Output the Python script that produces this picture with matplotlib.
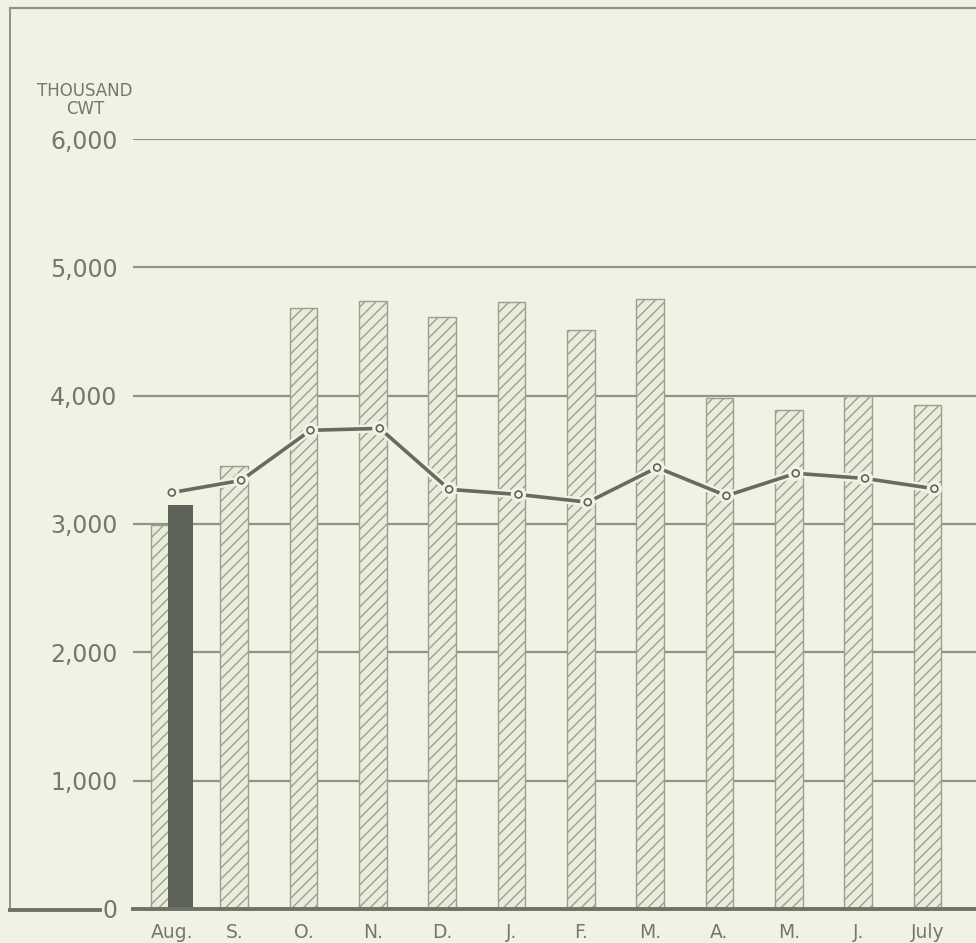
import matplotlib.pyplot as plt
import matplotlib.patheffects as pe
from matplotlib.lines import Line2D

# data (thousand cwt)
months = ["Aug.", "S.", "O.", "N.", "D.", "J.", "F.", "M.", "A.", "M.", "J.", "July"]
prev_year = [2990, 3450, 4680, 4740, 4610, 4730, 4510, 4750, 3980, 3890, 4000, 3930]
current = [3150]
average = [3245, 3340, 3730, 3745, 3270, 3230, 3170, 3440, 3220, 3395, 3355, 3275]
y_ticks = [0, 1000, 2000, 3000, 4000, 5000, 6000]
y_labels = ["0", "1,000", "2,000", "3,000", "4,000", "5,000", "6,000"]

bg = "#f0f3e4"
grey = "#8f9484"
dark = "#5f645a"
text_col = "#73786c"

plt.rcParams['hatch.linewidth'] = 1.0
plt.rcParams['hatch.color'] = "#9a9f8e"
plt.rcParams['font.family'] = ['DejaVu Sans']

W, H = 976, 943
fig = plt.figure(figsize=(W / 100, H / 100), dpi=100, facecolor=bg)
ax = fig.add_axes([133 / W, (H - 909) / H, (W - 133) / W, (909 - 139) / H])
ax.set_facecolor(bg)

x = list(range(len(months)))
ax.bar(x, prev_year, width=0.40, facecolor="#e9ecdb", edgecolor="#9a9f8e",
       linewidth=1.0, hatch="///", zorder=2)
ax.bar([0.22], current, width=0.36, color=dark, zorder=3)

x_line = [i + 0.1 for i in x]
ax.plot(x_line, average, color="#676c61", linewidth=2.6, marker="o", markersize=5,
        markerfacecolor="#f4f6ec", markeredgecolor=dark, markeredgewidth=1.2,
        zorder=4, path_effects=[pe.Stroke(linewidth=6, foreground=bg), pe.Normal()])

ax.set_xlim(-0.46, 11.70)
ax.set_ylim(0, 6000)
for v in y_ticks[1:]:
    ax.axhline(v, color=grey, linewidth=1.6, zorder=1)
ax.axhline(0, color="#6e7366", linewidth=2.8, zorder=5, clip_on=False)

for s in ax.spines.values():
    s.set_visible(False)
ax.set_yticks(y_ticks)
ax.set_yticklabels(y_labels, fontsize=17, color=text_col)
ax.tick_params(axis="y", length=0, pad=11)
ax.set_xticks([0.1] + x[1:])
ax.set_xticklabels(months, fontsize=13.5, color=text_col)
ax.tick_params(axis="x", length=0, pad=10)

fig.text(85 / W, 1 - 91 / H, "THOUSAND", ha="center", va="center",
         fontsize=12, color=text_col)
fig.text(85 / W, 1 - 109 / H, "CWT", ha="center", va="center",
         fontsize=12, color=text_col)

# outer frame of the printed figure
fx = lambda px: px / W
fy = lambda py: 1 - py / H
fig.add_artist(Line2D([fx(10), fx(976)], [fy(8), fy(8)], color=grey, linewidth=1.6))
fig.add_artist(Line2D([fx(10), fx(10)], [fy(8), fy(910)], color=grey, linewidth=1.4))
fig.add_artist(Line2D([fx(10), fx(100)], [fy(910), fy(910)], color="#6e7366", linewidth=2.8))

fig.savefig("out.png", dpi=100, facecolor=bg)
